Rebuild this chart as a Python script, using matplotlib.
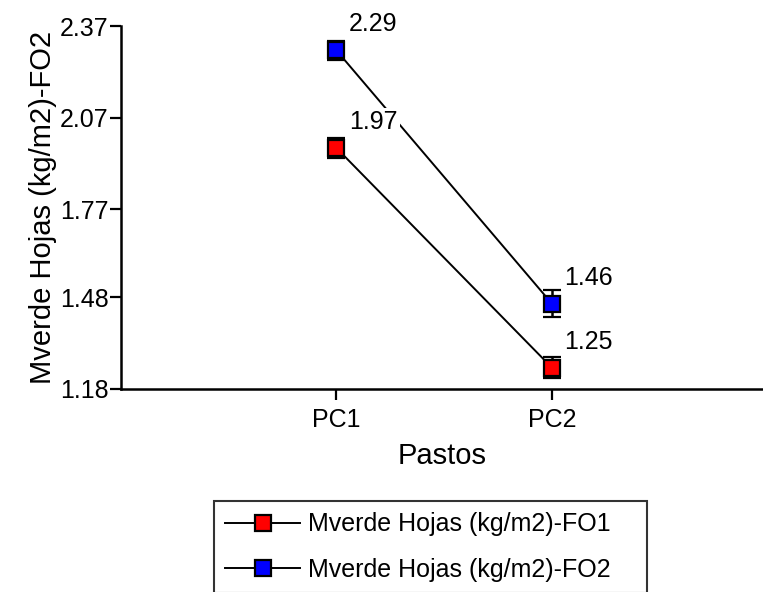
import matplotlib
matplotlib.use("Agg")
import matplotlib.pyplot as plt
from matplotlib.lines import Line2D
import numpy as np

plt.rcParams['font.family'] = ['Liberation Sans', 'DejaVu Sans']

# Pastures and mean green leaf mass per cutting frequency
pastos = ["PC1", "PC2"]
fo1_vals = [1.97, 1.25]
fo1_err = [0.032, 0.035]
fo2_vals = [2.29, 1.46]
fo2_err = [0.031, 0.044]
y_ticks = [1.18, 1.48, 1.77, 2.07, 2.37]
series_names = ["Mverde Hojas (kg/m2)-FO1", "Mverde Hojas (kg/m2)-FO2"]
series_colors = ["#ff0000", "#0000ff"]

fig = plt.figure(figsize=(7.63, 5.92), dpi=100)
ax = fig.add_axes([121 / 763, 1 - 389 / 592, 1 - 121 / 763, (389 - 26) / 592])

x = np.arange(1, len(pastos) + 1)
fs = 18

for vals, errs, color in [(fo1_vals, fo1_err, series_colors[0]),
                          (fo2_vals, fo2_err, series_colors[1])]:
    ax.errorbar(x, vals, yerr=errs, color="black", lw=1.4, elinewidth=1.8,
                capsize=6.5, capthick=1.8, marker="s", markersize=11,
                markerfacecolor=color, markeredgecolor="black", markeredgewidth=1.6,
                zorder=3)
    for xi, v in zip(x, vals):
        ax.annotate(f"{v:.2f}", (xi, v), xytext=(37, 26), textcoords="offset pixels",
                    ha="center", va="center", fontsize=fs, zorder=5,
                    bbox=dict(boxstyle="square,pad=0.1", fc="white", ec="none"))

ax.set_xlim(0, 2.98)
ax.set_ylim(1.18, 2.37)
ax.set_xticks(x)
ax.set_xticklabels(pastos)
ax.set_yticks(y_ticks)
ax.set_yticklabels([f"{t:.2f}" for t in y_ticks])
ax.tick_params(axis="both", labelsize=fs, length=8, width=1.6, direction="out")
ax.tick_params(axis="x", pad=6)
ax.tick_params(axis="y", pad=1)

for side in ["top", "right"]:
    ax.spines[side].set_visible(False)
for side in ["left", "bottom"]:
    ax.spines[side].set_linewidth(1.8)

ax.set_xlabel("Pastos", fontsize=21, labelpad=7)
ax.set_ylabel("Mverde Hojas (kg/m2)-FO2", fontsize=21, labelpad=2)

handles = [Line2D([], [], color="black", lw=1.4, marker="s", markersize=11,
                  markerfacecolor=c, markeredgecolor="black", markeredgewidth=1.6)
           for c in series_colors]
leg = fig.legend(handles, series_names, loc="upper left",
                 bbox_to_anchor=(214 / 763, 1 - 501 / 592, (647 - 214) / 763, 0),
                 mode="expand", fontsize=fs, frameon=True, fancybox=False,
                 edgecolor="black", handlelength=3.0, handletextpad=0.3,
                 borderpad=0.45, labelspacing=0.85, borderaxespad=0)
leg.get_frame().set_linewidth(1.5)

fig.savefig("out.png", dpi=100)
